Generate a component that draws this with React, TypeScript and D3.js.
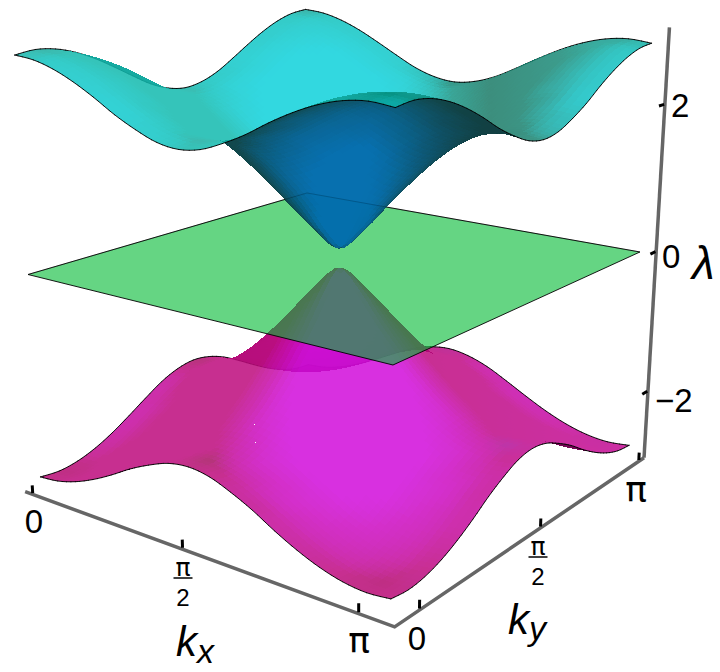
import React from 'react';
import * as d3 from 'd3';

// grid of the two dispersive bands
const kxGrid = [0, 0.196, 0.393, 0.589, 0.785, 0.982, 1.178, 1.374, 1.571, 1.767, 1.963, 2.16, 2.356, 2.553, 2.749, 2.945, 3.142, 3.338];
const kyGrid = [-0.196, 0, 0.196, 0.393, 0.589, 0.785, 0.982, 1.178, 1.374, 1.571, 1.767, 1.963, 2.16, 2.356, 2.553, 2.749, 2.945, 3.142];

const upperBand = [
  [2.80, 2.77, 2.69, 2.57, 2.42, 2.25, 2.11, 2.00, 1.96, 2.00, 2.11, 2.25, 2.42, 2.57, 2.69, 2.77, 2.80, 2.77],
  [2.83, 2.80, 2.72, 2.60, 2.45, 2.29, 2.14, 2.04, 2.00, 2.04, 2.14, 2.29, 2.45, 2.60, 2.72, 2.80, 2.83, 2.80],
  [2.80, 2.77, 2.69, 2.57, 2.42, 2.25, 2.11, 2.00, 1.96, 2.00, 2.11, 2.25, 2.42, 2.57, 2.69, 2.77, 2.80, 2.77],
  [2.72, 2.69, 2.61, 2.49, 2.33, 2.16, 2.00, 1.89, 1.85, 1.89, 2.00, 2.16, 2.33, 2.49, 2.61, 2.69, 2.72, 2.69],
  [2.60, 2.57, 2.49, 2.35, 2.18, 2.00, 1.83, 1.71, 1.66, 1.71, 1.83, 2.00, 2.18, 2.35, 2.49, 2.57, 2.60, 2.57],
  [2.45, 2.42, 2.33, 2.18, 2.00, 1.80, 1.61, 1.47, 1.41, 1.47, 1.61, 1.80, 2.00, 2.18, 2.33, 2.42, 2.45, 2.42],
  [2.29, 2.25, 2.16, 2.00, 1.80, 1.57, 1.35, 1.18, 1.11, 1.18, 1.35, 1.57, 1.80, 2.00, 2.16, 2.25, 2.29, 2.25],
  [2.14, 2.11, 2.00, 1.83, 1.61, 1.35, 1.08, 0.86, 0.77, 0.86, 1.08, 1.35, 1.61, 1.83, 2.00, 2.11, 2.14, 2.11],
  [2.04, 2.00, 1.89, 1.71, 1.47, 1.18, 0.86, 0.55, 0.39, 0.55, 0.86, 1.18, 1.47, 1.71, 1.89, 2.00, 2.04, 2.00],
  [2.00, 1.96, 1.85, 1.66, 1.41, 1.11, 0.77, 0.39, 0.13, 0.39, 0.77, 1.11, 1.41, 1.66, 1.85, 1.96, 2.00, 1.96],
  [2.04, 2.00, 1.89, 1.71, 1.47, 1.18, 0.86, 0.55, 0.39, 0.55, 0.86, 1.18, 1.47, 1.71, 1.89, 2.00, 2.04, 2.00],
  [2.14, 2.11, 2.00, 1.83, 1.61, 1.35, 1.08, 0.86, 0.77, 0.86, 1.08, 1.35, 1.61, 1.83, 2.00, 2.11, 2.14, 2.11],
  [2.29, 2.25, 2.16, 2.00, 1.80, 1.57, 1.35, 1.18, 1.11, 1.18, 1.35, 1.57, 1.80, 2.00, 2.16, 2.25, 2.29, 2.25],
  [2.45, 2.42, 2.33, 2.18, 2.00, 1.80, 1.61, 1.47, 1.41, 1.47, 1.61, 1.80, 2.00, 2.18, 2.33, 2.42, 2.45, 2.42],
  [2.60, 2.57, 2.49, 2.35, 2.18, 2.00, 1.83, 1.71, 1.66, 1.71, 1.83, 2.00, 2.18, 2.35, 2.49, 2.57, 2.60, 2.57],
  [2.72, 2.69, 2.61, 2.49, 2.33, 2.16, 2.00, 1.89, 1.85, 1.89, 2.00, 2.16, 2.33, 2.49, 2.61, 2.69, 2.72, 2.69],
  [2.80, 2.77, 2.69, 2.57, 2.42, 2.25, 2.11, 2.00, 1.96, 2.00, 2.11, 2.25, 2.42, 2.57, 2.69, 2.77, 2.80, 2.77],
  [2.83, 2.80, 2.72, 2.60, 2.45, 2.29, 2.14, 2.04, 2.00, 2.04, 2.14, 2.29, 2.45, 2.60, 2.72, 2.80, 2.83, 2.80],
];

const lowerBand = [
  [-2.80, -2.77, -2.69, -2.57, -2.42, -2.25, -2.11, -2.00, -1.96, -2.00, -2.11, -2.25, -2.42, -2.57, -2.69, -2.77, -2.80, -2.77],
  [-2.83, -2.80, -2.72, -2.60, -2.45, -2.29, -2.14, -2.04, -2.00, -2.04, -2.14, -2.29, -2.45, -2.60, -2.72, -2.80, -2.83, -2.80],
  [-2.80, -2.77, -2.69, -2.57, -2.42, -2.25, -2.11, -2.00, -1.96, -2.00, -2.11, -2.25, -2.42, -2.57, -2.69, -2.77, -2.80, -2.77],
  [-2.72, -2.69, -2.61, -2.49, -2.33, -2.16, -2.00, -1.89, -1.85, -1.89, -2.00, -2.16, -2.33, -2.49, -2.61, -2.69, -2.72, -2.69],
  [-2.60, -2.57, -2.49, -2.35, -2.18, -2.00, -1.83, -1.71, -1.66, -1.71, -1.83, -2.00, -2.18, -2.35, -2.49, -2.57, -2.60, -2.57],
  [-2.45, -2.42, -2.33, -2.18, -2.00, -1.80, -1.61, -1.47, -1.41, -1.47, -1.61, -1.80, -2.00, -2.18, -2.33, -2.42, -2.45, -2.42],
  [-2.29, -2.25, -2.16, -2.00, -1.80, -1.57, -1.35, -1.18, -1.11, -1.18, -1.35, -1.57, -1.80, -2.00, -2.16, -2.25, -2.29, -2.25],
  [-2.14, -2.11, -2.00, -1.83, -1.61, -1.35, -1.08, -0.86, -0.77, -0.86, -1.08, -1.35, -1.61, -1.83, -2.00, -2.11, -2.14, -2.11],
  [-2.04, -2.00, -1.89, -1.71, -1.47, -1.18, -0.86, -0.55, -0.39, -0.55, -0.86, -1.18, -1.47, -1.71, -1.89, -2.00, -2.04, -2.00],
  [-2.00, -1.96, -1.85, -1.66, -1.41, -1.11, -0.77, -0.39, -0.13, -0.39, -0.77, -1.11, -1.41, -1.66, -1.85, -1.96, -2.00, -1.96],
  [-2.04, -2.00, -1.89, -1.71, -1.47, -1.18, -0.86, -0.55, -0.39, -0.55, -0.86, -1.18, -1.47, -1.71, -1.89, -2.00, -2.04, -2.00],
  [-2.14, -2.11, -2.00, -1.83, -1.61, -1.35, -1.08, -0.86, -0.77, -0.86, -1.08, -1.35, -1.61, -1.83, -2.00, -2.11, -2.14, -2.11],
  [-2.29, -2.25, -2.16, -2.00, -1.80, -1.57, -1.35, -1.18, -1.11, -1.18, -1.35, -1.57, -1.80, -2.00, -2.16, -2.25, -2.29, -2.25],
  [-2.45, -2.42, -2.33, -2.18, -2.00, -1.80, -1.61, -1.47, -1.41, -1.47, -1.61, -1.80, -2.00, -2.18, -2.33, -2.42, -2.45, -2.42],
  [-2.60, -2.57, -2.49, -2.35, -2.18, -2.00, -1.83, -1.71, -1.66, -1.71, -1.83, -2.00, -2.18, -2.35, -2.49, -2.57, -2.60, -2.57],
  [-2.72, -2.69, -2.61, -2.49, -2.33, -2.16, -2.00, -1.89, -1.85, -1.89, -2.00, -2.16, -2.33, -2.49, -2.61, -2.69, -2.72, -2.69],
  [-2.80, -2.77, -2.69, -2.57, -2.42, -2.25, -2.11, -2.00, -1.96, -2.00, -2.11, -2.25, -2.42, -2.57, -2.69, -2.77, -2.80, -2.77],
  [-2.83, -2.80, -2.72, -2.60, -2.45, -2.29, -2.14, -2.04, -2.00, -2.04, -2.14, -2.29, -2.45, -2.60, -2.72, -2.80, -2.83, -2.80],
];

const kTicks = [0, Math.PI / 2, Math.PI];
const lambdaTicks = [-2, 0, 2];

const width = 720;
const height = 672;

// unit box coordinates for the k axes, lambda stays in its own units
const kxScale = d3.scaleLinear().domain([0, 3.338]).range([0, 1]);
const kyScale = d3.scaleLinear().domain([-0.196, 3.142]).range([0, 1]);

// perspective camera fitted to the corners of the plot box
const camera = [
  [300.2, 346, -5.0, 28],
  [30.35, -39.4, -79.17, 274.5],
  [-0.1648, 0.2183, -0.01442, 1],
];
const boxMin = -0.026;
const boxMax = 1.028;
const floorZ = -3;
const topZ = 3;
const zScale = 0.177; // lambda unit relative to box side, for normals
const subdiv = 4;

const depthOf = (X: number, Y: number, Z: number) =>
  camera[2][0] * X + camera[2][1] * Y + camera[2][2] * Z + camera[2][3];

const project = (X: number, Y: number, Z: number): [number, number] => {
  const w = depthOf(X, Y, Z);
  return [
    (camera[0][0] * X + camera[0][1] * Y + camera[0][2] * Z + camera[0][3]) / w,
    (camera[1][0] * X + camera[1][1] * Y + camera[1][2] * Z + camera[1][3]) / w,
  ];
};

const line = d3.line().digits(2);
const polyline = (pts: [number, number, number][]) =>
  line(pts.map((p) => project(p[0], p[1], p[2]))) as string;

// smooth resampling so the mesh does not show its facets
const resample = (values: number[]) => {
  const out: number[] = [];
  const last = values.length - 1;
  for (let i = 0; i < last; i++) {
    const p0 = values[Math.max(i - 1, 0)];
    const p1 = values[i];
    const p2 = values[i + 1];
    const p3 = values[Math.min(i + 2, last)];
    for (let k = 0; k < subdiv; k++) {
      const t = k / subdiv;
      out.push(
        0.5 * (2 * p1 + (p2 - p0) * t + (2 * p0 - 5 * p1 + 4 * p2 - p3) * t * t + (3 * p1 - p0 - 3 * p2 + p3) * t * t * t)
      );
    }
  }
  out.push(values[last]);
  return out;
};

const resampleGrid = (rows: number[][]) => {
  const fineRows = rows.map(resample);
  const fineCols = fineRows[0].map((_, c) => resample(fineRows.map((r) => r[c])));
  return fineCols[0].map((_, r) => fineCols.map((col) => col[r]));
};

type BandStyle = {
  bright: string;
  dim: d3.ScaleLinear<string, string>;
  side: d3.ScaleLinear<string, string>;
  underDark: string;
  underLight: string;
};

const upperStyle: BandStyle = {
  bright: '#0ed1db',
  dim: d3.scaleLinear<string>()
    .domain([15, 177, 307, 385, 475, 600, 653])
    .range(['#1ea596', '#1aada1', '#1e9a8c', '#009a85', '#17725e', '#188f80', '#149f90']),
  side: d3.scaleLinear<string>()
    .domain([15, 400, 490, 560, 625, 653])
    .range(['#12baae', '#12baae', '#1a7a66', '#1a8a78', '#12b0a4', '#12b5a8']),
  underDark: '#0b3238',
  underLight: '#005ea6',
};

const lowerStyle: BandStyle = {
  bright: '#d10cdb',
  dim: d3.scaleLinear<string>()
    .domain([40, 200, 392, 490, 630])
    .range(['#b2086c', '#a1145a', '#b2086c', '#ac14a0', '#c4088f']),
  side: d3.scaleLinear<string>()
    .domain([40, 392, 630])
    .range(['#bd0a7c', '#bd0a7c', '#c40a96']),
  underDark: '#600040',
  underLight: '#a0008a',
};

const clamp01 = (v: number) => Math.max(0, Math.min(1, v));

type Piece = { d: string; depth: number; fill?: string };

const buildBand = (band: number[][], style: BandStyle): Piece[] => {
  const xs = resample(kxGrid).map((k) => kxScale(k));
  const ys = resample(kyGrid).map((k) => kyScale(k));
  const zs = resampleGrid(band);
  const pieces: Piece[] = [];

  for (let r = 0; r < ys.length - 1; r++) {
    for (let c = 0; c < xs.length - 1; c++) {
      const q: [number, number, number][] = [
        [xs[c], ys[r], zs[r][c]],
        [xs[c + 1], ys[r], zs[r][c + 1]],
        [xs[c + 1], ys[r + 1], zs[r + 1][c + 1]],
        [xs[c], ys[r + 1], zs[r + 1][c]],
      ];
      const scr = q.map((p) => project(p[0], p[1], p[2]));
      const area = d3.polygonArea(scr);

      // normal from the diagonals, pointing up
      const ax = q[2][0] - q[0][0];
      const ay = q[2][1] - q[0][1];
      const az = (q[2][2] - q[0][2]) * zScale;
      const bx = q[3][0] - q[1][0];
      const by = q[3][1] - q[1][1];
      const bz = (q[3][2] - q[1][2]) * zScale;
      let nx = ay * bz - az * by;
      let ny = az * bx - ax * bz;
      let nz = ax * by - ay * bx;
      const len = Math.hypot(nx, ny, nz) || 1;
      nx /= len;
      ny /= len;
      nz /= len;

      const cx = d3.mean(scr, (p) => p[0]) as number;
      let fill: string;
      if (area > 0) {
        // lit toward the viewer, slopes to the sides get a duller tint
        const f = 0.66 * nx - 0.66 * ny + 0.36 * nz;
        const front = clamp01((f - 0.42) / 0.4);
        const slope = Math.pow(clamp01(Math.hypot(nx, ny) / 0.25), 0.8);
        const base = d3.interpolateRgb(style.dim(cx), style.side(cx))(slope);
        fill = d3.interpolateRgb(base, style.bright)(front);
      } else {
        const dot = -0.66 * nx + 0.66 * ny - 0.28 * nz;
        const shade = clamp01(dot / 0.42) * (1 - 0.75 * clamp01((cx - 370) / 120));
        fill = d3.interpolateRgb(style.underDark, style.underLight)(shade);
      }

      pieces.push({
        d: (line(scr) as string) + 'Z',
        depth: d3.mean(q, (p) => depthOf(p[0], p[1], p[2])) as number,
        fill,
      });
    }
  }

  // outline of the sheet goes through the same depth sort
  const pushEdge = (a: [number, number, number], b: [number, number, number]) => {
    pieces.push({
      d: polyline([a, b]),
      depth: (depthOf(a[0], a[1], a[2]) + depthOf(b[0], b[1], b[2])) / 2 - 0.007,
    });
  };
  const lastR = ys.length - 1;
  const lastC = xs.length - 1;
  for (let c = 0; c < lastC; c++) {
    pushEdge([xs[c], ys[0], zs[0][c]], [xs[c + 1], ys[0], zs[0][c + 1]]);
    pushEdge([xs[c], ys[lastR], zs[lastR][c]], [xs[c + 1], ys[lastR], zs[lastR][c + 1]]);
  }
  for (let r = 0; r < lastR; r++) {
    pushEdge([xs[0], ys[r], zs[r][0]], [xs[0], ys[r + 1], zs[r + 1][0]]);
    pushEdge([xs[lastC], ys[r], zs[r][lastC]], [xs[lastC], ys[r + 1], zs[r + 1][lastC]]);
  }

  return pieces.sort((a, b) => b.depth - a.depth);
};

const BandLayer = ({ pieces }: { pieces: Piece[] }) => (
  <g>
    {pieces.map((p, i) =>
      p.fill ? (
        <path key={i} d={p.d} fill={p.fill} fillOpacity={0.85} shapeRendering="crispEdges" />
      ) : (
        <path key={i} d={p.d} fill="none" stroke="#000" strokeWidth={0.9} strokeLinecap="round" />
      )
    )}
  </g>
);

const piFont = "'DejaVu Sans', sans-serif";

const Fraction = ({ x, y }: { x: number; y: number }) => (
  <g textAnchor="middle" fontSize={24}>
    <text x={x} y={y} fontSize={25} fontFamily={piFont}>π</text>
    <line x1={x - 9.5} x2={x + 9.5} y1={y + 2} y2={y + 2} stroke="#000" strokeWidth={1.5} />
    <text x={x} y={y + 30}>2</text>
  </g>
);

export default function App() {
  const lowerPieces = buildBand(lowerBand, lowerStyle);
  const upperPieces = buildBand(upperBand, upperStyle);

  const planeOutline =
    polyline([[0, 0, 0], [1, 0, 0], [1, 1, 0], [0, 1, 0]]) + 'Z';

  return (
    <svg
      width={width}
      height={height}
      viewBox={`0 0 ${width} ${height}`}
      style={{ position: 'absolute', left: 0, top: 0, background: '#fff' }}
      fontFamily="'Liberation Sans', Arial, sans-serif"
    >
      {/* axes */}
      <g fill="none" stroke="#666" strokeWidth={3.5}>
        <path d={polyline([[boxMin, boxMin, floorZ], [boxMax, boxMin, floorZ], [boxMax, boxMax, floorZ]])} strokeLinejoin="miter" />
        <path d={polyline([[boxMax, boxMax, floorZ], [boxMax, boxMax, topZ]])} />
      </g>
      <g fill="none" stroke="#000" strokeWidth={3}>
        {kTicks.map((k) => (
          <path key={`kx${k}`} d={polyline([[kxScale(k), boxMin, floorZ + 0.02], [kxScale(k), boxMin, floorZ + 0.13]])} />
        ))}
        {kTicks.map((k) => (
          <path key={`ky${k}`} d={polyline([[boxMax, kyScale(k), floorZ + 0.02], [boxMax, kyScale(k), floorZ + 0.13]])} />
        ))}
        {lambdaTicks.map((v) => (
          <path key={`l${v}`} d={polyline([[boxMax, boxMax - 0.004, v], [boxMax, boxMax - 0.03, v]])} />
        ))}
      </g>

      <BandLayer pieces={lowerPieces} />
      <path d={planeOutline} fill="rgb(3,187,53)" fillOpacity={0.61} stroke="#000" strokeWidth={0.9} strokeLinejoin="round" />
      <BandLayer pieces={upperPieces} />
      {/* back edges of the flat band show faintly through the upper sheet */}
      <path d={polyline([[0, 0, 0], [0, 1, 0], [1, 1, 0]])} fill="none" stroke="#000" strokeWidth={0.9} strokeOpacity={0.2} />

      {/* tick labels */}
      <g fontSize={33} textAnchor="middle" fill="#000">
        <text x={34} y={533}>0</text>
        <text x={359} y={653} fontSize={36} fontFamily={piFont}>π</text>
        <text x={417} y={650}>0</text>
        <text x={636} y={502} fontSize={36} fontFamily={piFont}>π</text>
      </g>
      <Fraction x={183} y={576} />
      <Fraction x={538} y={555} />
      <g fontSize={33} fill="#000">
        <text x={671} y={117}>2</text>
        <text x={662} y={268}>0</text>
        <text x={655} y={412}>−2</text>
      </g>

      {/* axis titles */}
      <g fontStyle="italic" fontSize={42} fill="#000">
        <text x={176} y={656}>k<tspan fontSize={34} dy={7}>x</tspan></text>
        <text x={508} y={634}>k<tspan fontSize={34} dy={6}>y</tspan></text>
        <text x={692} y={279} fontSize={46}>λ</text>
      </g>
    </svg>
  );
}
